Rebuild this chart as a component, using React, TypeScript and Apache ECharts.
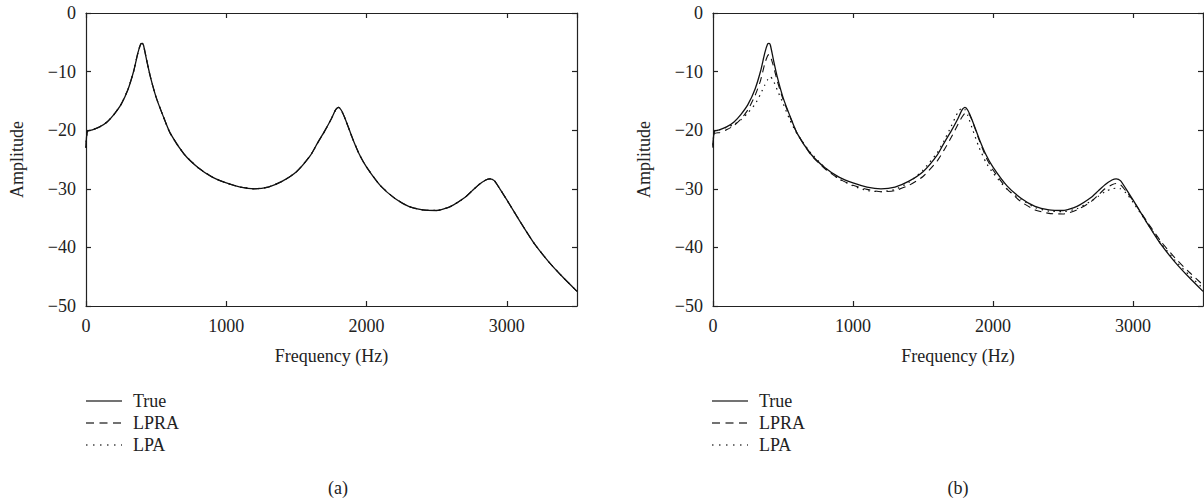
import React, { useEffect, useRef } from "react";
import * as echarts from "echarts";

const freqs = [0, 10, 50, 100, 150, 200, 250, 300, 340, 370, 390, 400, 410, 430, 460, 500, 550, 600, 700, 800, 900, 1000, 1100, 1200, 1300, 1400, 1500, 1600, 1650, 1700, 1750, 1780, 1800, 1820, 1850, 1900, 1950, 2000, 2100, 2200, 2300, 2400, 2500, 2600, 2700, 2750, 2800, 2850, 2880, 2910, 2950, 3000, 3100, 3200, 3300, 3400, 3500];

const trueAmp = [-23.0, -20.2, -19.9, -19.4, -18.6, -17.3, -15.6, -13.0, -9.9, -6.8, -5.3, -5.2, -5.5, -7.8, -11.0, -14.4, -17.6, -20.5, -24.1, -26.4, -28.0, -29.0, -29.7, -30.0, -29.7, -28.7, -27.1, -24.3, -22.2, -20.2, -18.0, -16.5, -16.1, -16.6, -18.2, -21.4, -24.2, -26.3, -29.5, -31.6, -33.0, -33.6, -33.7, -33.0, -31.5, -30.4, -29.3, -28.5, -28.3, -28.6, -30.0, -31.9, -35.8, -39.5, -42.5, -45.1, -47.5];

// panel (a): estimates coincide with the true envelope
const lpraAmpA = [-23.0, -20.2, -19.9, -19.4, -18.6, -17.3, -15.6, -13.0, -9.9, -6.8, -5.3, -5.2, -5.5, -7.8, -11.0, -14.4, -17.6, -20.5, -24.1, -26.4, -28.0, -29.0, -29.7, -30.0, -29.7, -28.7, -27.1, -24.3, -22.2, -20.2, -18.0, -16.5, -16.1, -16.6, -18.2, -21.4, -24.2, -26.3, -29.5, -31.6, -33.0, -33.6, -33.7, -33.0, -31.5, -30.4, -29.3, -28.5, -28.3, -28.6, -30.0, -31.9, -35.8, -39.5, -42.5, -45.1, -47.5];
const lpaAmpA = [-23.0, -20.2, -19.9, -19.4, -18.6, -17.3, -15.6, -13.0, -9.9, -6.8, -5.3, -5.2, -5.5, -7.8, -11.0, -14.4, -17.6, -20.5, -24.1, -26.4, -28.0, -29.0, -29.7, -30.0, -29.7, -28.7, -27.1, -24.3, -22.2, -20.2, -18.0, -16.5, -16.1, -16.6, -18.2, -21.4, -24.2, -26.3, -29.5, -31.6, -33.0, -33.6, -33.7, -33.0, -31.5, -30.4, -29.3, -28.5, -28.3, -28.6, -30.0, -31.9, -35.8, -39.5, -42.5, -45.1, -47.5];

// panel (b)
const lpraAmpB = [-22.8, -20.6, -20.4, -19.9, -19.2, -18.1, -16.5, -14.1, -11.5, -8.6, -7.3, -7.1, -7.4, -8.9, -11.7, -14.7, -17.7, -20.5, -24.2, -26.6, -28.3, -29.4, -30.1, -30.5, -30.3, -29.4, -27.9, -25.3, -23.4, -21.3, -19.0, -17.7, -17.1, -17.0, -18.3, -21.6, -24.6, -26.8, -30.0, -32.2, -33.6, -34.2, -34.3, -33.6, -32.2, -31.1, -30.0, -29.3, -29.1, -29.3, -30.4, -32.0, -35.6, -39.0, -41.8, -44.2, -46.4];
const lpaAmpB = [-22.5, -20.3, -19.9, -19.5, -19.0, -18.2, -17.0, -15.6, -13.8, -12.3, -11.4, -11.0, -10.9, -11.5, -13.2, -15.4, -18.3, -20.6, -23.9, -26.4, -28.3, -29.5, -30.3, -30.5, -30.1, -28.9, -26.8, -23.9, -21.8, -19.4, -16.9, -16.2, -16.5, -17.5, -19.6, -22.9, -25.5, -27.3, -30.1, -31.8, -33.2, -33.8, -33.9, -33.4, -32.1, -31.3, -30.5, -30.0, -29.9, -30.0, -30.7, -32.3, -35.8, -39.3, -42.2, -44.7, -47.0];

const seriesNames = ["True", "LPRA", "LPA"];
const panelLabels = ["(a)", "(b)"];
const xTitle = "Frequency (Hz)";
const yTitle = "Amplitude";

const FONT = "'Liberation Serif', 'Times New Roman', serif";
const INK = "#222";
const FS = 18;

const pair = (arr: number[]) => freqs.map((f, i) => [f, arr[i]]);
const fmtY = (v: number) => (v < 0 ? "\u2212" + Math.abs(v) : String(v));
const fmtX = (v: number) => String(v);

export default function App() {
  const ref = useRef<HTMLDivElement>(null);
  useEffect(() => {
    if (!ref.current) return;
    const chart = echarts.init(ref.current, undefined, { renderer: "svg" });
    const grids = [
      { left: 86, top: 13, width: 491, height: 293 },
      { left: 713, top: 13, width: 490, height: 293 },
    ];
    const axisLine = { show: true, onZero: false, lineStyle: { color: INK, width: 1.2 } };
    const tick = { show: true, inside: true, length: 5, lineStyle: { color: INK, width: 1.2 } };
    const xAxes: any[] = [];
    const yAxes: any[] = [];
    grids.forEach((_, g) => {
      xAxes.push({
        gridIndex: g, type: "value", min: 0, max: 3500, interval: 1000, position: "bottom",
        axisLine, axisTick: tick, splitLine: { show: false },
        axisLabel: { fontFamily: FONT, fontSize: FS, color: INK, margin: 11, showMaxLabel: false, formatter: fmtX },
        name: xTitle, nameLocation: "middle", nameGap: 41,
        nameTextStyle: { fontFamily: FONT, fontSize: FS, color: INK },
      });
      xAxes.push({
        gridIndex: g, type: "value", min: 0, max: 3500, interval: 1000, position: "top",
        axisLine, axisTick: tick, splitLine: { show: false }, axisLabel: { show: false },
      });
      yAxes.push({
        gridIndex: g, type: "value", min: -50, max: 0, interval: 10, position: "left",
        axisLine, axisTick: tick, splitLine: { show: false },
        axisLabel: { fontFamily: FONT, fontSize: FS, color: INK, margin: 10, formatter: fmtY },
        name: yTitle, nameLocation: "middle", nameGap: 60,
        nameTextStyle: { fontFamily: FONT, fontSize: FS, color: INK },
      });
      yAxes.push({
        gridIndex: g, type: "value", min: -50, max: 0, interval: 10, position: "right",
        axisLine, axisTick: tick, splitLine: { show: false }, axisLabel: { show: false },
      });
    });
    const styles = [
      { type: "solid", width: 1.3 },
      { type: [7, 5], width: 1.1 },
      { type: [1.5, 4.5], width: 1.2 },
    ];
    const legendDash = [null, [8, 5.5], [1.5, 5.5]];
    const panelData = [
      [trueAmp, lpraAmpA, lpaAmpA],
      [trueAmp, lpraAmpB, lpaAmpB],
    ];
    const series: any[] = [];
    panelData.forEach((arrs, g) => {
      [2, 1, 0].forEach((k) => {
        series.push({
          type: "line", name: seriesNames[k], xAxisIndex: g * 2, yAxisIndex: g * 2,
          data: pair(arrs[k]), symbol: "none", showSymbol: false, smooth: 0.2,
          lineStyle: { color: "#111", ...styles[k] }, itemStyle: { color: "#111" },
          z: 3 - k,
        });
      });
    });
    const graphic: any[] = [];
    const legendX = [86, 712];
    const rowY = [401, 423, 445];
    legendX.forEach((lx) => {
      seriesNames.forEach((nm, k) => {
        graphic.push({
          type: "line",
          shape: { x1: lx, y1: rowY[k], x2: lx + 36, y2: rowY[k] },
          style: { stroke: "#444", lineWidth: 1.5, lineDash: legendDash[k] || undefined },
        });
        graphic.push({
          type: "text", x: lx + 47, y: rowY[k],
          style: { text: nm, font: `${FS}px ${FONT}`, fill: INK, verticalAlign: "middle", align: "left" },
        });
      });
    });
    graphic.push({ type: "text", x: 338, y: 488, style: { text: panelLabels[0], font: `${FS}px ${FONT}`, fill: INK, align: "center", verticalAlign: "middle" } });
    graphic.push({ type: "text", x: 958, y: 488, style: { text: panelLabels[1], font: `${FS}px ${FONT}`, fill: INK, align: "center", verticalAlign: "middle" } });
    chart.setOption({
      animation: false,
      grid: grids,
      xAxis: xAxes,
      yAxis: yAxes,
      series,
      graphic,
    });
    return () => chart.dispose();
  }, []);
  return (
    <div
      ref={ref}
      style={{ position: "fixed", left: 0, top: 0, width: 1204, height: 504, background: "#fff" }}
    />
  );
}
